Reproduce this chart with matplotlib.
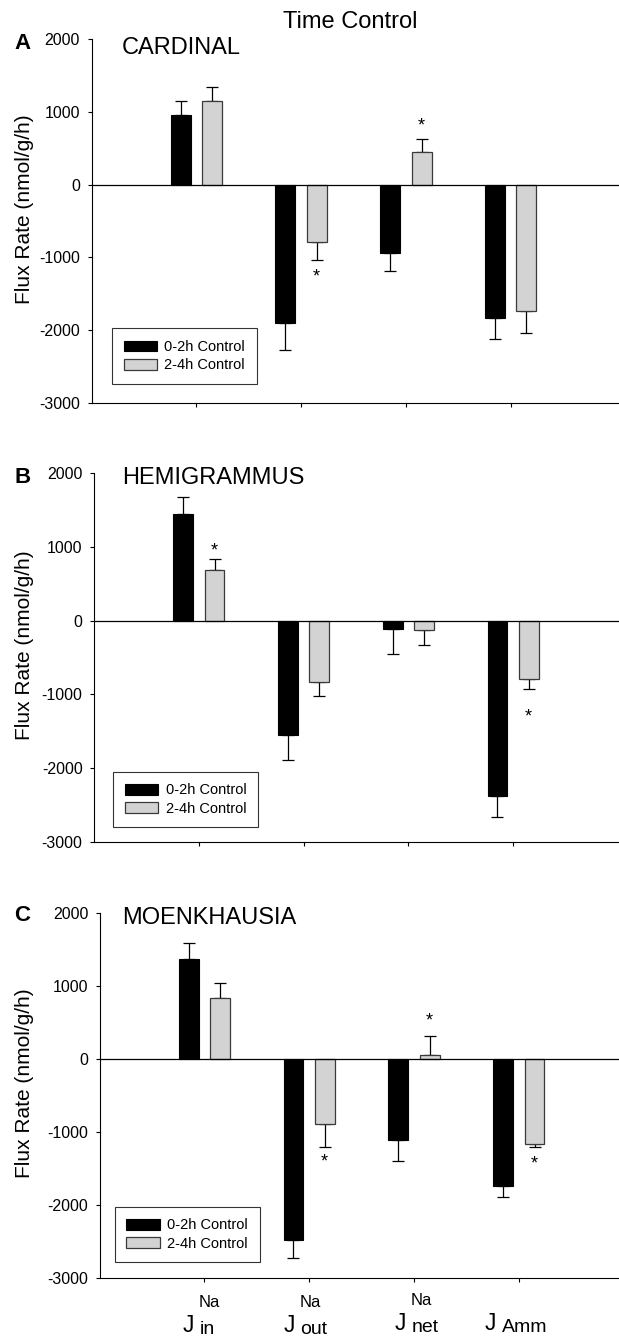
import numpy as np
import matplotlib.pyplot as plt

plt.rcParams['font.family'] = ['Liberation Sans', 'DejaVu Sans']
plt.rcParams['axes.unicode_minus'] = False

# figure size in pixels (dpi 100)
W, H = 619, 1338

# x categories
flux_subs = ['in', 'out', 'net', 'Amm']
flux_sups = ['Na', 'Na', 'Na', '']
series_names = ['0-2h Control', '2-4h Control']
yticks = [-3000, -2000, -1000, 0, 1000, 2000]

# A - cardinal
cardinal_early = [963, -1910, -940, -1830]
cardinal_early_err = [183, 370, 250, 290]
cardinal_late = [1156, -795, 445, -1740]
cardinal_late_err = [187, 240, 185, 300]
cardinal_stars = [1, 2]

# B - hemigrammus
hemi_early = [1450, -1550, -110, -2380]
hemi_early_err = [235, 335, 340, 280]
hemi_late = [683, -837, -130, -796]
hemi_late_err = [154, 190, 205, 130]
hemi_stars = [0, 3]

# C - moenkhausia
moen_early = [1373, -2473, -1110, -1741]
moen_early_err = [210, 245, 285, 145]
moen_late = [832, -886, 55, -1159]
moen_late_err = [200, 323, 263, 46]
moen_stars = [1, 2, 3]

# layout (pixels)
step = 104.8
panels = [
    dict(letter='A', name='CARDINAL', early=cardinal_early, early_err=cardinal_early_err,
         late=cardinal_late, late_err=cardinal_late_err, stars=cardinal_stars, star_gap=[11, 19],
         left=91.5, top=39.3, bottom=402.7, title_y=53.5, letter_y=49.3, leg=(112, 384)),
    dict(letter='B', name='HEMIGRAMMUS', early=hemi_early, early_err=hemi_early_err,
         late=hemi_late, late_err=hemi_late_err, stars=hemi_stars, star_gap=[14, 22],
         left=94, top=473.3, bottom=841.7, title_y=484.3, letter_y=482.7, leg=(113, 827.3)),
    dict(letter='C', name='MOENKHAUSIA', early=moen_early, early_err=moen_early_err,
         late=moen_late, late_err=moen_late_err, stars=moen_stars, star_gap=[9, 20, 11],
         left=99.6, top=912.7, bottom=1278.3, title_y=924, letter_y=920.7, leg=(114.6, 1262.3)),
]

fig = plt.figure(figsize=(W/100, H/100), dpi=100)
fig.text(350/W, 1 - 28.3/H, 'Time Control', fontsize=17, ha='center', va='baseline')

x = np.arange(1, len(flux_subs) + 1)
bw = 0.19
off = 0.15

for p in panels:
    ax = fig.add_axes([p['left']/W, 1 - p['bottom']/H, (W - p['left'])/W, (p['bottom'] - p['top'])/H])
    early = np.array(p['early'])
    late = np.array(p['late'])
    e_err = np.array(p['early_err'])
    l_err = np.array(p['late_err'])

    # one-sided error bars, pointing away from zero
    for xs, vals, err in [(x - off, early, e_err), (x + off, late, l_err)]:
        lo = np.where(vals < 0, err, 0)
        hi = np.where(vals >= 0, err, 0)
        ax.errorbar(xs, vals, yerr=[lo, hi], fmt='none', ecolor='k', elinewidth=0.9,
                    capsize=4, capthick=0.9, zorder=2)

    ax.bar(x - off, early, bw, color='black', edgecolor='black', linewidth=0.8,
           label=series_names[0], zorder=3)
    ax.bar(x + off, late, bw, color='#d3d3d3', edgecolor='#3a3a3a', linewidth=0.9,
           label=series_names[1], zorder=3)
    ax.axhline(0, color='k', linewidth=0.9, zorder=4)

    # significance stars
    for k, i in enumerate(p['stars']):
        v = late[i]
        end = v + l_err[i] if v >= 0 else v - l_err[i]
        gap = p['star_gap'][k] * 0.72
        dy = gap if v >= 0 else -gap
        ax.annotate('*', xy=(x[i] + off, end), xytext=(-0.5, dy - 7.3), textcoords='offset points',
                    ha='center', va='baseline', fontsize=13)

    ax.set_xlim(0, (W - p['left']) / step)
    ax.set_ylim(-3000, 2000)
    ax.set_xticks(x)
    ax.set_xticklabels([])
    ax.set_yticks(yticks)
    ax.set_yticklabels([str(t) for t in yticks])
    ax.tick_params(direction='out', length=3.2, width=0.8, labelsize=11.5, pad=5)
    for s in ['top', 'right']:
        ax.spines[s].set_visible(False)
    for s in ['left', 'bottom']:
        ax.spines[s].set_linewidth(0.8)

    ax.set_ylabel('Flux Rate (nmol/g/h)', fontsize=15)
    ax.yaxis.set_label_coords((34 - p['left']) / (W - p['left']),
                              0.5 + 12 / (p['bottom'] - p['top']))

    lx, lb = p['leg']
    leg = ax.legend(loc='lower left',
                    bbox_to_anchor=((lx - p['left']) / (W - p['left']),
                                    (p['bottom'] - lb) / (p['bottom'] - p['top'])),
                    borderaxespad=0, fontsize=10.5, frameon=True, fancybox=False,
                    handlelength=2.3, handleheight=0.75, handletextpad=0.5,
                    borderpad=0.8, labelspacing=0.3)
    leg.get_frame().set_edgecolor('black')
    leg.get_frame().set_linewidth(0.8)

    fig.text(14/W, 1 - p['letter_y']/H, p['letter'], fontsize=16, fontweight='bold', va='baseline')
    fig.text(122/W, 1 - p['title_y']/H, p['name'], fontsize=17, va='baseline')

# x category labels under the last panel
j_dx = [-22, -26, -19.5, -34]
j_dy = [54, 54, 52, 52]
for i in range(len(flux_subs)):
    tr = ax.get_xaxis_transform()
    ax.annotate('J', xy=(x[i], 0), xycoords=tr, xytext=(j_dx[i]*0.72, -j_dy[i]*0.72),
                textcoords='offset points', ha='left', va='baseline', fontsize=16.4)
    ax.annotate(flux_subs[i], xy=(x[i], 0), xycoords=tr, xytext=((j_dx[i] + 17)*0.72, -(j_dy[i] + 1.5)*0.72),
                textcoords='offset points', ha='left', va='baseline', fontsize=14)
    if flux_sups[i]:
        ax.annotate(flux_sups[i], xy=(x[i], 0), xycoords=tr, xytext=((j_dx[i] + 16)*0.72, -(j_dy[i] - 25.5)*0.72),
                    textcoords='offset points', ha='left', va='baseline', fontsize=12)

fig.savefig('out.png', dpi=100)
